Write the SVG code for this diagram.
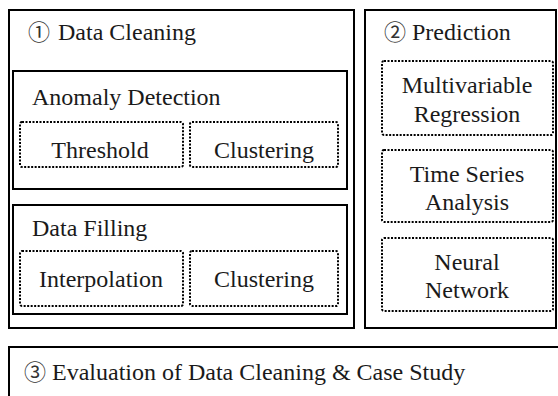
<svg xmlns="http://www.w3.org/2000/svg" width="558" height="396" viewBox="0 0 558 396">
<style>
.box{fill:none;stroke:#000;stroke-width:2}
.dot{fill:none;stroke:#000;stroke-width:2;stroke-dasharray:2 1.5}
.t{font-family:'Liberation Serif','Times New Roman',serif;font-size:24px;fill:#1a1a1a}
.n{font-family:'Noto Sans CJK JP',sans-serif;font-size:22px;fill:#333}
.c{text-anchor:middle}
</style>
<rect width="558" height="396" fill="#fff"/>
<g id="data-cleaning">
<rect class="box" x="9" y="10" width="345" height="318"/>
<text class="n" x="28" y="40">①</text>
<text class="t" x="58" y="40">Data Cleaning</text>
</g>
<g id="anomaly-detection">
<rect class="box" x="13" y="71" width="334" height="118"/>
<text class="t" x="32" y="105">Anomaly Detection</text>
</g>
<g id="threshold">
<rect class="dot" x="20" y="122" width="163" height="45" rx="2"/>
<text class="t c" x="100" y="158">Threshold</text>
</g>
<g id="clustering-1">
<rect class="dot" x="190" y="122" width="148" height="45" rx="2"/>
<text class="t c" x="264" y="158">Clustering</text>
</g>
<g id="data-filling">
<rect class="box" x="13" y="205" width="334" height="109"/>
<text class="t" x="32" y="236">Data Filling</text>
</g>
<g id="interpolation">
<rect class="dot" x="20" y="251" width="163" height="55" rx="2"/>
<text class="t c" x="101" y="287">Interpolation</text>
</g>
<g id="clustering-2">
<rect class="dot" x="190" y="251" width="148" height="55" rx="2"/>
<text class="t c" x="264" y="287">Clustering</text>
</g>
<g id="prediction">
<rect class="box" x="365" y="10" width="191" height="318"/>
<text class="n" x="384" y="40">②</text>
<text class="t" x="412" y="40">Prediction</text>
</g>
<g id="multivariable-regression">
<rect class="dot" x="382" y="61" width="171" height="74" rx="2"/>
<text class="t c" x="467" y="93">Multivariable</text>
<text class="t c" x="467" y="122">Regression</text>
</g>
<g id="time-series-analysis">
<rect class="dot" x="382" y="150" width="171" height="72" rx="2"/>
<text class="t c" x="467" y="182">Time Series</text>
<text class="t c" x="467" y="210">Analysis</text>
</g>
<g id="neural-network">
<rect class="dot" x="382" y="238" width="171" height="73" rx="2"/>
<text class="t c" x="467" y="270">Neural</text>
<text class="t c" x="467" y="298">Network</text>
</g>
<g id="evaluation">
<rect class="box" x="9" y="347" width="560" height="60"/>
<text class="n" x="24" y="380">③</text>
<text class="t" x="52" y="380">Evaluation of Data Cleaning &amp; Case Study</text>
</g>
<g id="connectors"></g>
</svg>
